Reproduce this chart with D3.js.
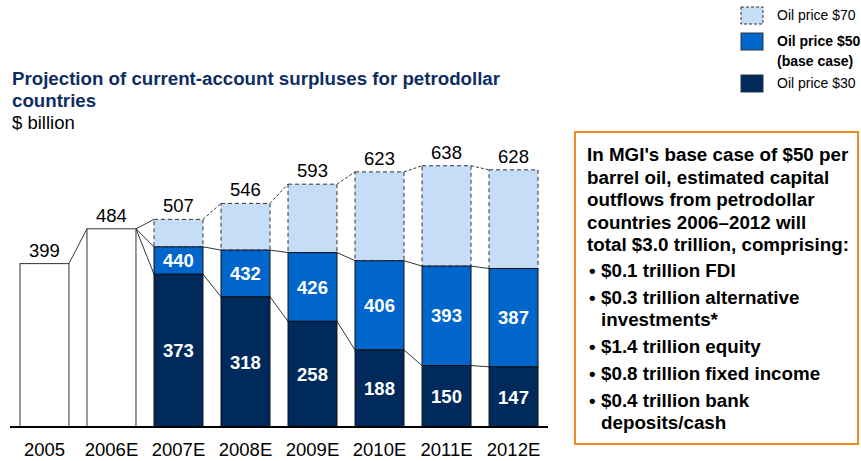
<!DOCTYPE html>
<html>
<head>
<meta charset="utf-8">
<script src="https://cdn.jsdelivr.net/npm/d3@7"></script>
<style>
  body { margin: 0; background: #fff; }
  svg text { font-family: Arial, "Liberation Sans", sans-serif; }
</style>
</head>
<body>
<script>
// data
let years = ["2005", "2006E", "2007E", "2008E", "2009E", "2010E", "2011E", "2012E"];
let totals = [399, 484, 507, 546, 593, 623, 638, 628];   // oil price $70 (or actual)
let base50 = [null, null, 440, 432, 426, 406, 393, 387];
let low30 = [null, null, 373, 318, 258, 188, 150, 147];

let legendLabels = [["Oil price $70"], ["Oil price $50", "(base case)"], ["Oil price $30"]];
let boxLines = [
  "In MGI's base case of $50 per",
  "barrel oil, estimated capital",
  "outflows from petrodollar",
  "countries 2006\u20132012 will",
  "total $3.0 trillion, comprising:"
];
let bullets = [
  ["$0.1 trillion FDI"],
  ["$0.3 trillion alternative", "investments*"],
  ["$1.4 trillion equity"],
  ["$0.8 trillion fixed income"],
  ["$0.4 trillion bank", "deposits/cash"]
];

let cLight = "#c6ddf7", cMid = "#0066cc", cDark = "#002a5c";

let svg = d3.select("body").append("svg")
  .attr("width", 861)
  .attr("height", 461);

let x = d3.scaleBand().domain(years).range([11, 547]).paddingInner(0.269).paddingOuter(0.134);
let y = d3.scaleLinear().domain([0, 700]).range([427, 427 - 700 * 0.4095]);

// title
let title = svg.append("g");
title.append("text").attr("x", 12).attr("y", 85)
  .style("font-size", "18.7px").style("font-weight", "bold").style("fill", "#0d2d63")
  .text("Projection of current-account surpluses for petrodollar");
title.append("text").attr("x", 12).attr("y", 107)
  .style("font-size", "18.7px").style("font-weight", "bold").style("fill", "#0d2d63")
  .text("countries");
title.append("text").attr("x", 12).attr("y", 129)
  .style("font-size", "18.5px").style("fill", "#000")
  .text("$ billion");

// connector lines between bars
function addLink(i, vFrom, vTo, dashed) {
  svg.append("line")
    .attr("x1", x(years[i]) + x.bandwidth())
    .attr("y1", y(vFrom))
    .attr("x2", x(years[i + 1]))
    .attr("y2", y(vTo))
    .attr("stroke", "#000")
    .attr("stroke-width", 0.8)
    .attr("stroke-dasharray", dashed ? "3,2" : null);
}
for (let i = 0; i < years.length - 1; i++) {
  if (base50[i] == null) {
    addLink(i, totals[i], totals[i + 1], false);
    if (base50[i + 1] != null) {
      addLink(i, totals[i], base50[i + 1], false);
      addLink(i, totals[i], low30[i + 1], false);
    }
  } else {
    addLink(i, totals[i], totals[i + 1], true);
    addLink(i, base50[i], base50[i + 1], false);
    addLink(i, low30[i], low30[i + 1], false);
  }
}

// bars
years.forEach(function (yr, i) {
  let bx = x(yr), bw = x.bandwidth();
  if (base50[i] == null) {
    svg.append("rect")
      .attr("x", bx).attr("y", y(totals[i]))
      .attr("width", bw).attr("height", y(0) - y(totals[i]))
      .attr("fill", "#fff").attr("stroke", "#333").attr("stroke-width", 1);
  } else {
    svg.append("rect")
      .attr("x", bx).attr("y", y(totals[i]))
      .attr("width", bw).attr("height", y(base50[i]) - y(totals[i]))
      .attr("fill", cLight).attr("stroke", "#333").attr("stroke-width", 1)
      .attr("stroke-dasharray", "4,3");
    svg.append("rect")
      .attr("x", bx).attr("y", y(base50[i]))
      .attr("width", bw).attr("height", y(low30[i]) - y(base50[i]))
      .attr("fill", cMid).attr("stroke", "#111").attr("stroke-width", 1);
    svg.append("rect")
      .attr("x", bx).attr("y", y(low30[i]))
      .attr("width", bw).attr("height", y(0) - y(low30[i]))
      .attr("fill", cDark).attr("stroke", "#111").attr("stroke-width", 1);

    svg.append("text")
      .attr("x", bx + bw / 2).attr("y", (y(base50[i]) + y(low30[i])) / 2)
      .attr("dy", "0.36em").attr("text-anchor", "middle")
      .style("font-size", "18.5px").style("font-weight", "bold").style("fill", "#fff")
      .text(base50[i]);
    svg.append("text")
      .attr("x", bx + bw / 2).attr("y", (y(low30[i]) + y(0)) / 2)
      .attr("dy", "0.36em").attr("text-anchor", "middle")
      .style("font-size", "18.5px").style("font-weight", "bold").style("fill", "#fff")
      .text(low30[i]);
  }
  svg.append("text")
    .attr("x", bx + bw / 2).attr("y", y(totals[i]) - 7)
    .attr("text-anchor", "middle")
    .style("font-size", "18.5px").style("fill", "#000")
    .text(totals[i]);
});

// baseline + x axis labels
svg.append("line")
  .attr("x1", 10).attr("x2", 548).attr("y1", y(0)).attr("y2", y(0))
  .attr("stroke", "#000").attr("stroke-width", 2);

let xAxis = svg.append("g")
  .attr("transform", "translate(0," + y(0) + ")")
  .call(d3.axisBottom(x).tickSize(0).tickPadding(16));
xAxis.select(".domain").remove();
xAxis.selectAll("text")
  .style("font-size", "18.5px").style("font-family", "Arial, 'Liberation Sans', sans-serif").style("fill", "#000");

// legend
let legY = [7, 33, 75];
let legFill = [cLight, cMid, cDark];
legendLabels.forEach(function (lab, i) {
  svg.append("rect")
    .attr("x", 741).attr("y", legY[i]).attr("width", 22).attr("height", 17)
    .attr("fill", legFill[i]).attr("stroke", "#333").attr("stroke-width", 1)
    .attr("stroke-dasharray", i == 0 ? "3,2" : null);
  lab.forEach(function (t, j) {
    svg.append("text")
      .attr("x", 777).attr("y", legY[i] + 13 + j * 20)
      .style("font-size", "14px")
      .style("font-weight", i == 1 ? "bold" : "normal")
      .text(t);
  });
});

// call-out box
svg.append("rect")
  .attr("x", 575).attr("y", 132).attr("width", 283).attr("height", 312)
  .attr("fill", "none").attr("stroke", "#f08a24").attr("stroke-width", 2);

boxLines.forEach(function (t, i) {
  svg.append("text")
    .attr("x", 587).attr("y", 161 + i * 22.5)
    .style("font-size", "18.8px").style("font-weight", "bold")
    .text(t);
});
let by = 277;
bullets.forEach(function (b) {
  svg.append("text")
    .attr("x", 589).attr("y", by)
    .style("font-size", "18.8px").style("font-weight", "bold")
    .text("\u2022");
  b.forEach(function (t, j) {
    svg.append("text")
      .attr("x", 601).attr("y", by + j * 22)
      .style("font-size", "18.8px").style("font-weight", "bold")
      .text(t);
  });
  by += 22 * b.length + 5;
});
</script>
</body>
</html>
